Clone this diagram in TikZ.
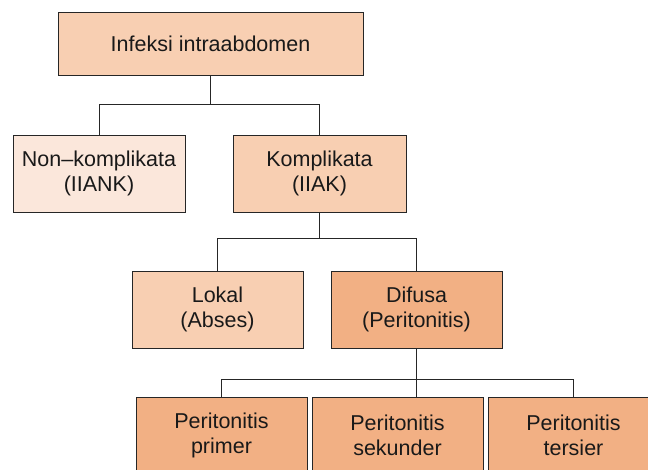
\documentclass[tikz,border=0pt]{standalone}
\usepackage{fontspec}
\setmainfont{Liberation Sans}

\definecolor{peachlight}{HTML}{FBE7DB}
\definecolor{peachmid}{HTML}{F8CFB2}
\definecolor{peachdark}{HTML}{F2B084}

\tikzset{
  kotak/.style={draw=black!85,line width=0.9pt,align=center,inner sep=2pt,
    font=\fontsize{21.5}{25.5}\selectfont,text=black!90},
  kotakmuda/.style={kotak,fill=peachlight},
  kotaksedang/.style={kotak,fill=peachmid},
  kotaktua/.style={kotak,fill=peachdark},
  garis/.style={black!85,line width=0.9pt}
}

\begin{document}
\begin{tikzpicture}[x=1pt,y=-1pt]
  \useasboundingbox (0,0) rectangle (648,470);
  \clip (0,0) rectangle (648,470);

  % Root
  \node[kotaksedang,minimum width=305pt,minimum height=63pt] (root) at (210.5,43.5)
    {Infeksi intraabdomen};

  % Level 1
  \node[kotakmuda,minimum width=172pt,minimum height=77pt] (nonkomp) at (99,173.5)
    {Non–komplikata\\(IIANK)};
  \node[kotaksedang,minimum width=173pt,minimum height=77pt] (komp) at (319.5,173.5)
    {Komplikata\\(IIAK)};

  % Level 2
  \node[kotaksedang,minimum width=171pt,minimum height=77pt] (lokal) at (217.5,309.5)
    {Lokal\\(Abses)};
  \node[kotaktua,minimum width=171pt,minimum height=77pt] (difusa) at (416.5,309.5)
    {Difusa\\(Peritonitis)};

  % Level 3 (cut off by the bottom edge)
  \node[kotaktua,minimum width=171pt,minimum height=77pt] (primer) at (221.5,435.5)
    {Peritonitis\\primer};
  \node[kotaktua,minimum width=171pt,minimum height=77pt] (sekunder) at (397.5,435.5)
    {Peritonitis\\sekunder};
  \node[kotaktua,minimum width=171pt,minimum height=77pt] (tersier) at (573.5,435.5)
    {Peritonitis\\tersier};

  % Connectors
  \draw[garis] (root.south) -- ++(0,29) coordinate (j1);
  \draw[garis] (nonkomp.north) |- (j1) -| (komp.north);

  \draw[garis] (komp.south) -- ++(0,26) coordinate (j2);
  \draw[garis] (lokal.north) |- (j2) -| (difusa.north);

  \draw[garis] (difusa.south) -- (difusa.south |- sekunder.north);
  \path (difusa.south) ++(0,31) coordinate (j3);
  \draw[garis] (primer.north) |- (j3) -| (tersier.north);

\end{tikzpicture}
\end{document}
